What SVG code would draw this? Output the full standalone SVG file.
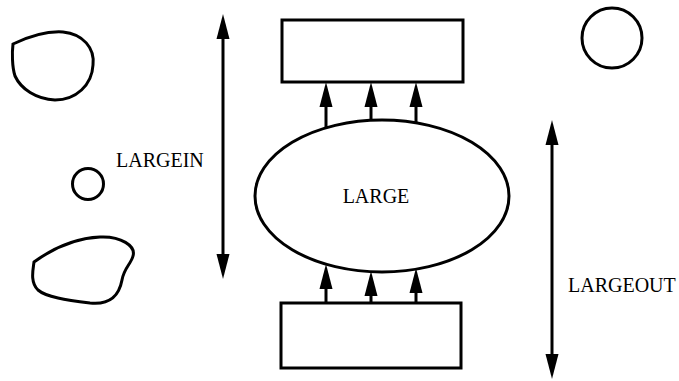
<svg xmlns="http://www.w3.org/2000/svg" width="679" height="381" viewBox="0 0 679 381">
<defs>
<style>
.sh{fill:#fff;stroke:#000;stroke-width:3}
.ln{fill:none;stroke:#000;stroke-width:3}
.tx{font-family:"Liberation Serif","Times New Roman",serif;font-size:20px;fill:#000}
</style>
<marker id="ah" markerUnits="userSpaceOnUse" markerWidth="26" markerHeight="14" viewBox="0 0 26 14" refX="14" refY="7" orient="auto-start-reverse">
<path d="M0,0.5 L25,7 L0,13.5 Z" fill="#000"/>
</marker>
</defs>
<rect width="679" height="381" fill="#fff"/>
<g id="blob-top-left"><path class="sh" d="M13,44 C30,36 48,31 63,32 C83,34 95,48 93,65 C92,85 76,100 55,100 C36,99 21,89 15,76 C12,67 12,52 13,44 Z"/></g>
<g id="circle-small"><circle class="sh" cx="88" cy="184" r="15.5"/></g>
<g id="blob-bottom-left"><path class="sh" d="M34,262 C52,249 76,238 100,237 C121,236 136,246 133,256 C131,264 124,268 122,280 C119,296 110,305 90,303 C66,300 46,297 38,290 C30,282 33,270 34,262 Z"/></g>
<g id="circle-top-right"><circle class="sh" cx="612" cy="38" r="30"/></g>
<g id="rect-top"><rect class="sh" x="282" y="20" width="181" height="62"/></g>
<g id="rect-bottom"><rect class="sh" x="281" y="303" width="180" height="65"/></g>
<g id="large"><ellipse class="sh" cx="382" cy="196" rx="127" ry="76"/><text class="tx" x="376" y="203" text-anchor="middle">LARGE</text></g>
<g id="label-largein"><text class="tx" x="116" y="167">LARGEIN</text></g>
<g id="label-largeout"><text class="tx" x="568" y="292">LARGEOUT</text></g>
<g id="connectors">
<line class="ln" x1="223" y1="25" x2="223" y2="268" marker-start="url(#ah)" marker-end="url(#ah)"/>
<line class="ln" x1="552" y1="131" x2="552" y2="368" marker-start="url(#ah)" marker-end="url(#ah)"/>
<line class="ln" x1="326" y1="128" x2="326" y2="93" marker-end="url(#ah)"/>
<line class="ln" x1="371" y1="120" x2="371" y2="93" marker-end="url(#ah)"/>
<line class="ln" x1="416" y1="123" x2="416" y2="93" marker-end="url(#ah)"/>
<line class="ln" x1="326" y1="303" x2="326" y2="275" marker-end="url(#ah)"/>
<line class="ln" x1="371" y1="303" x2="371" y2="282" marker-end="url(#ah)"/>
<line class="ln" x1="416" y1="303" x2="416" y2="279" marker-end="url(#ah)"/>
</g>
</svg>
